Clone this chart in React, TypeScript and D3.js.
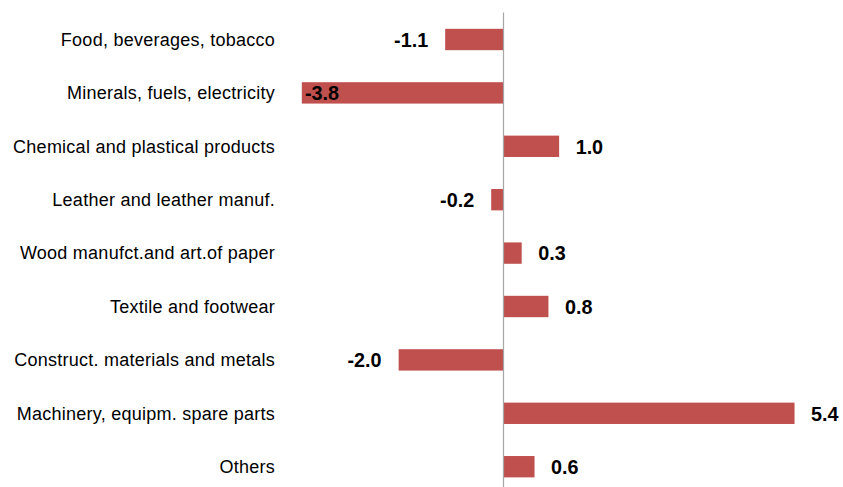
import React from "react";
import * as d3 from "d3";

const categories = [
  "Food, beverages, tobacco",
  "Minerals, fuels, electricity",
  "Chemical and plastical products",
  "Leather and leather manuf.",
  "Wood manufct.and art.of paper",
  "Textile and footwear",
  "Construct. materials and metals",
  "Machinery, equipm. spare parts",
  "Others",
];
const values = [-1.09, -3.77, 1.04, -0.23, 0.34, 0.84, -1.96, 5.44, 0.58];

const W = 843;
const H = 487;

export default function App() {
  const x = d3.scaleLinear().domain([-4, 6]).range([503.5 - 214, 503.5 + 321]);
  const y = d3
    .scaleBand<string>()
    .domain(categories)
    .range([12.8, 12.8 + 9 * 53.4])
    .paddingInner(0.6)
    .paddingOuter(0.3);
  const plotLeft = 303;
  const fmt = (v: number) => v.toFixed(1);
  const x0 = x(0);

  return (
    <svg
      width={W}
      height={H}
      style={{ position: "absolute", left: 0, top: 0, background: "#fff" }}
      fontFamily="'Liberation Sans', Arial, sans-serif"
    >
      {categories.map((c, i) => {
        const v = values[i];
        const by = y(c)!;
        const bh = y.bandwidth();
        const cy = by + bh / 2;
        const xv = x(v);
        const left = Math.min(xv, x0);
        const w = Math.abs(xv - x0);
        let lx: number;
        let anchor: "start" | "end";
        if (v >= 0) {
          lx = xv + 16.5;
          anchor = "start";
        } else {
          lx = xv - 17;
          anchor = "end";
          const estWidth = fmt(v).length * 19.5 * 0.5;
          if (lx - estWidth < plotLeft) {
            lx = plotLeft + 2;
            anchor = "start";
          }
        }
        return (
          <g key={c}>
            <text
              x={275}
              y={cy + 6.3}
              textAnchor="end"
              fontSize={18}
              letterSpacing={0.25}
              fill="#000"
            >
              {c}
            </text>
            <rect x={left} y={by} width={w} height={bh} fill="#c0504d" />
            <text
              x={lx}
              y={cy + 7.2}
              textAnchor={anchor}
              fontSize={19.8}
              fontWeight="bold"
              fill="#000"
            >
              {fmt(v)}
            </text>
          </g>
        );
      })}
      <line x1={x0} x2={x0} y1={12.5} y2={H} stroke="#a6a6a6" strokeWidth={1.2} />
    </svg>
  );
}
